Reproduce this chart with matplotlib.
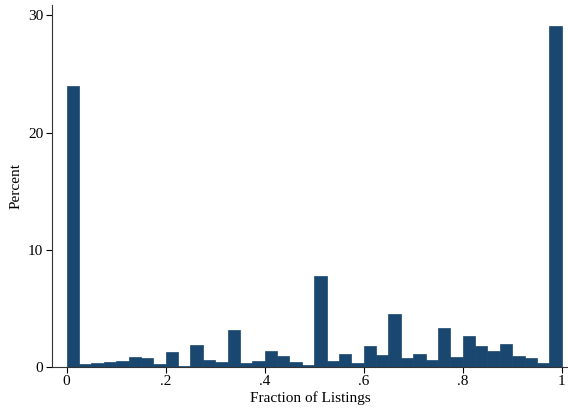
import numpy as np
import matplotlib
matplotlib.use("Agg")
import matplotlib.pyplot as plt

plt.rcParams['font.family'] = ['Liberation Serif', 'DejaVu Serif']

# histogram: 40 bins of width .025 on [0, 1], heights in percent
bin_width = 0.025
bin_left = np.arange(40) * bin_width
percent = [24.0, 0.23, 0.34, 0.40, 0.49, 0.85, 0.74, 0.23, 1.25, 0.11,
           1.85, 0.57, 0.40, 3.20, 0.31, 0.49, 1.34, 0.91, 0.40, 0.14,
           7.78, 0.49, 1.08, 0.31, 1.77, 1.00, 4.50, 0.74, 1.08, 0.57,
           3.30, 0.83, 2.62, 1.77, 1.34, 1.94, 0.91, 0.74, 0.31, 29.1]

xticks = [0, 0.2, 0.4, 0.6, 0.8, 1.0]
xticklabels = ["0", ".2", ".4", ".6", ".8", "1"]
yticks = [0, 10, 20, 30]

navy = "#1a476f"

fig = plt.figure(figsize=(5.68, 4.11), dpi=100)
ax = fig.add_axes([0.091, 0.107, 0.909, 0.881])

ax.bar(bin_left, percent, width=bin_width, align="edge",
       color=navy, edgecolor=navy, linewidth=0.5)

ax.set_xlim(-0.0303, 1.0127)
ax.set_ylim(0, 30.9)

ax.set_xticks(xticks)
ax.set_xticklabels(xticklabels)
ax.set_yticks(yticks)
ax.tick_params(axis="both", direction="out", length=4, width=0.8,
               labelsize=11, colors="black", pad=2)

for s in ["top", "right"]:
    ax.spines[s].set_visible(False)
for s in ["left", "bottom"]:
    ax.spines[s].set_linewidth(0.8)
    ax.spines[s].set_color("#333333")

ax.set_xlabel("Fraction of Listings", fontsize=11, labelpad=2)
ax.set_ylabel("Percent", fontsize=11, labelpad=4)

fig.savefig("out.png", dpi=100)
